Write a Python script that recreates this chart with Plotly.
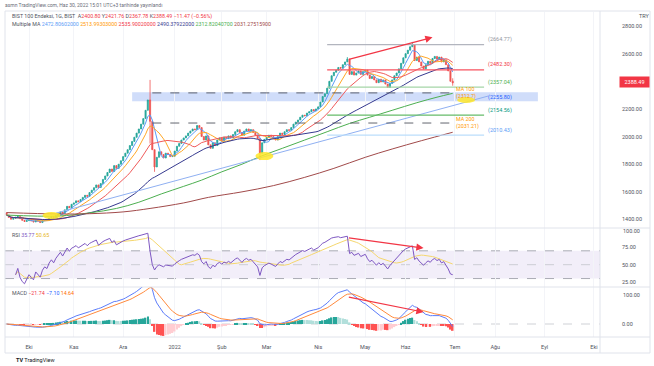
import pandas as pd
import numpy as np
import plotly.graph_objects as go

# ------------------------------------------------------------------ data
holidays = ["2021-10-29", "2022-05-02", "2022-05-03", "2022-05-04", "2022-05-19",
            "2022-07-11", "2022-07-12", "2022-07-15", "2022-08-30"]

close_sep = [1432, 1415, 1402, 1408, 1416, 1422, 1406, 1394, 1386, 1392]
close_oct = [1398, 1390, 1382, 1395, 1388, 1378, 1392, 1400, 1395, 1410, 1420, 1412, 1428,
             1440, 1455, 1445, 1470, 1495, 1485, 1510]
close_nov = [1520, 1535, 1528, 1545, 1560, 1575, 1568, 1595, 1612, 1630, 1650, 1632, 1660,
             1690, 1715, 1740, 1765, 1748, 1790, 1770, 1800, 1825]
close_dec = [1855, 1880, 1905, 1935, 1965, 1995, 2025, 2055, 2090, 2130, 2190, 2265, 2110,
             1905, 1780, 1850, 1890, 1870, 1845, 1880, 1870, 1855, 1858]
close_jan = [1895, 1930, 1950, 1975, 1990, 2005, 2025, 2040, 2055, 2050, 2080, 2065, 2000,
             1975, 2005, 1940, 1915, 1955, 1935, 1975, 1990]
close_feb = [1970, 1995, 1985, 2005, 1990, 2015, 2035, 2050, 2030, 2010, 2040, 2055, 2040,
             2050, 2030, 2010, 1985, 1880, 1955, 1980]
close_mar = [1995, 2010, 2000, 1985, 1975, 2000, 2025, 2015, 2035, 2050, 2045, 2065, 2090,
             2105, 2120, 2140, 2155, 2150, 2170, 2180, 2195, 2185, 2200]
close_apr = [2215, 2250, 2290, 2310, 2350, 2400, 2440, 2465, 2480, 2500, 2495, 2520, 2540,
             2560, 2450, 2470, 2445, 2460, 2475, 2450, 2470]
close_may = [2480, 2445, 2420, 2435, 2410, 2390, 2415, 2395, 2410, 2380, 2355, 2385, 2410,
             2440, 2460, 2490, 2530, 2570]
close_jun = [2600, 2625, 2650, 2665, 2550, 2575, 2540, 2510, 2490, 2520, 2545, 2530, 2565,
             2580, 2560, 2575, 2540, 2555, 2520, 2475, 2400, 2388.49]

month_spans = [("2021-09-17", "2021-09-30", close_sep), ("2021-10-01", "2021-10-31", close_oct),
               ("2021-11-01", "2021-11-30", close_nov), ("2021-12-01", "2021-12-31", close_dec),
               ("2022-01-01", "2022-01-31", close_jan), ("2022-02-01", "2022-02-28", close_feb),
               ("2022-03-01", "2022-03-31", close_mar), ("2022-04-01", "2022-04-30", close_apr),
               ("2022-05-01", "2022-05-31", close_may), ("2022-06-01", "2022-06-30", close_jun)]

open_override = {"2021-09-17": 1448, "2022-06-30": 2400.80}
high_override = {"2021-12-17": 2410, "2022-04-20": 2575, "2022-06-06": 2685, "2022-06-30": 2421.76}
low_override = {"2021-12-17": 1950, "2021-12-21": 1745, "2022-02-24": 1830, "2022-06-30": 2367.78}

ma100_dates = ["2021-09-17", "2021-10-20", "2021-11-10", "2021-11-26", "2021-12-10", "2021-12-24",
               "2022-01-07", "2022-01-19", "2022-02-01", "2022-02-14", "2022-02-24", "2022-03-10",
               "2022-03-24", "2022-04-07", "2022-04-21", "2022-05-09", "2022-05-24", "2022-06-08",
               "2022-06-21", "2022-06-30"]
ma100_vals = [1432, 1425, 1448, 1480, 1525, 1585, 1640, 1685, 1745, 1800, 1855, 1915, 1975, 2035,
              2095, 2140, 2190, 2245, 2285, 2312.82]
ma200_dates = ["2021-09-17", "2021-10-20", "2021-11-10", "2021-12-01", "2021-12-17", "2022-01-07",
               "2022-01-24", "2022-02-14", "2022-03-04", "2022-03-24", "2022-04-12", "2022-05-05",
               "2022-05-24", "2022-06-10", "2022-06-30"]
ma200_vals = [1450, 1440, 1442, 1455, 1480, 1520, 1560, 1600, 1645, 1705, 1770, 1850, 1910, 1970,
              2031.28]

trend_dates = ["2021-10-19", "2022-07-27"]
trend_vals = [1446, 2294]

levels = [2664.77, 2482.30, 2357.04, 2154.56, 2010.43]
level_labels = ["(2664.77)", "(2482.30)", "(2357.04)", "(2154.56)", "(2010.43)"]
level_colors = ["#b2b5be", "#f7525f", "#a5d6a7", "#66bb6a", "#bbdefb"]
level_text_colors = ["#9598a1", "#f23645", "#4caf50", "#089981", "#5b9cf6"]
band_vals = [2255.80, 2320]
band_label = "(2255.80)"
ma_level_vals = [2316, 2098]
ma_level_labels = ["MA 100<br>(2312.7)", "MA 200<br>(2031.21)"]

month_ticks = ["2021-10-01", "2021-11-01", "2021-12-01", "2022-01-03", "2022-02-01", "2022-03-01",
               "2022-04-01", "2022-05-05", "2022-06-01", "2022-07-01", "2022-08-01", "2022-09-01",
               "2022-10-03"]
month_labels = ["Eki", "Kas", "Ara", "2022", "Şub", "Mar", "Nis", "May", "Haz", "Tem", "Ağu", "Eyl", "Eki"]

price_ticks = [1400, 1600, 1800, 2000, 2200, 2600, 2800]
rsi_ticks = [25, 50, 75]
rsi_top_tick = 100
macd_ticks = [0]
macd_top_tick = 100

# ------------------------------------------------------------------ build series
hol = pd.to_datetime(holidays)
dl, cl = [], []
for s, e, vals in month_spans:
    bd = pd.bdate_range(s, e)
    bd = bd[~bd.isin(hol)]
    n = min(len(bd), len(vals))
    dl.extend(bd[:n]); cl.extend(vals[:n])
dates = pd.DatetimeIndex(dl)
close = pd.Series(cl, index=dates, dtype=float)
opens = close.shift(1)
opens.iloc[0] = close.iloc[0]
for k, v in open_override.items():
    opens.loc[pd.Timestamp(k)] = v
highs = np.maximum(opens, close)
lows = np.minimum(opens, close)
for k, v in high_override.items():
    highs.loc[pd.Timestamp(k)] = v
for k, v in low_override.items():
    lows.loc[pd.Timestamp(k)] = v

ma5 = close.rolling(5, min_periods=1).mean()
ma10 = close.rolling(10, min_periods=1).mean()
ma20 = close.rolling(20, min_periods=1).mean()
ma50 = close.rolling(50, min_periods=1).mean()

delta = close.diff().fillna(0)
gain = delta.clip(lower=0).ewm(alpha=1 / 14, adjust=True).mean()
loss = (-delta.clip(upper=0)).ewm(alpha=1 / 14, adjust=True).mean()
rsi = 100 * gain / (gain + loss)
rsi = rsi.iloc[4:]
rsi_ma = rsi.rolling(14, min_periods=1).mean()

ema12 = close.ewm(span=12, adjust=False).mean()
ema26 = close.ewm(span=26, adjust=False).mean()
macd = ema12 - ema26
signal = macd.ewm(span=9, adjust=False).mean()
hist = macd - signal
hcols = []
prev = 0.0
for h in hist.values:
    if h >= 0:
        hcols.append("#26a69a" if h >= prev else "#b2dfdb")
    else:
        hcols.append("#ff5252" if h <= prev else "#ffcdd2")
    prev = h

# ------------------------------------------------------------------ figure
W, H = 654, 366
def px(x): return x / W
def py(y): return 1 - y / H

FONT = "Roboto"
fig = go.Figure()

fig.add_trace(go.Candlestick(
    x=dates, open=opens, high=highs, low=lows, close=close,
    increasing=dict(line=dict(color="#26a69a", width=0.8), fillcolor="#26a69a"),
    decreasing=dict(line=dict(color="#ef5350", width=0.8), fillcolor="#ef5350"),
    whiskerwidth=0, xaxis="x", yaxis="y", showlegend=False, hoverinfo="skip"))

ma_series = [(ma5, "#5b9cf6"), (ma10, "#ffa726"), (ma20, "#f05a5a"), (ma50, "#363a8f")]
for s, c in ma_series:
    fig.add_trace(go.Scatter(x=s.index, y=s.values, mode="lines", line=dict(color=c, width=1),
                             xaxis="x", yaxis="y", showlegend=False, hoverinfo="skip"))
fig.add_trace(go.Scatter(x=ma100_dates, y=ma100_vals, mode="lines", line=dict(color="#4caf50", width=1, shape="spline"),
                         xaxis="x", yaxis="y", showlegend=False, hoverinfo="skip"))
fig.add_trace(go.Scatter(x=ma200_dates, y=ma200_vals, mode="lines", line=dict(color="#a14a4a", width=1, shape="spline"),
                         xaxis="x", yaxis="y", showlegend=False, hoverinfo="skip"))
fig.add_trace(go.Scatter(x=trend_dates, y=trend_vals, mode="lines", line=dict(color="#8fb0f2", width=1),
                         xaxis="x", yaxis="y", showlegend=False, hoverinfo="skip"))

fig.add_trace(go.Scatter(x=rsi_ma.index, y=rsi_ma.values, mode="lines", line=dict(color="#f5d76e", width=1),
                         xaxis="x2", yaxis="y2", showlegend=False, hoverinfo="skip"))
fig.add_trace(go.Scatter(x=rsi.index, y=rsi.values, mode="lines", line=dict(color="#7e57c2", width=1),
                         xaxis="x2", yaxis="y2", showlegend=False, hoverinfo="skip"))

fig.add_trace(go.Bar(x=hist.index, y=hist.values, marker=dict(color=hcols, line=dict(width=0)),
                     xaxis="x3", yaxis="y3", showlegend=False, hoverinfo="skip"))
fig.add_trace(go.Scatter(x=macd.index, y=macd.values, mode="lines", line=dict(color="#5c7cfa", width=1),
                         xaxis="x3", yaxis="y3", showlegend=False, hoverinfo="skip"))
fig.add_trace(go.Scatter(x=signal.index, y=signal.values, mode="lines", line=dict(color="#ff8a3d", width=1),
                         xaxis="x3", yaxis="y3", showlegend=False, hoverinfo="skip"))

shapes = []
ann = []
lvl_x0, lvl_x1, lvl_lab = "2022-04-07", "2022-07-25", "2022-07-26"
# blue band
shapes.append(dict(type="rect", xref="x", yref="y", x0="2021-12-07", x1="2022-08-26",
                   y0=band_vals[0], y1=band_vals[1], fillcolor="rgba(66,120,235,0.25)",
                   line=dict(width=0), layer="below"))
for v, c in zip(levels, level_colors):
    shapes.append(dict(type="line", xref="x", yref="y", x0=lvl_x0, x1=lvl_x1, y0=v, y1=v,
                       line=dict(color=c, width=1.2)))
for v, t, c in zip(levels, level_labels, level_text_colors):
    ann.append(dict(xref="x", yref="y", x=lvl_lab, y=v, text=t, showarrow=False, xanchor="left",
                    yanchor="middle", yshift=5, font=dict(size=5.5, color=c, family=FONT)))
ann.append(dict(xref="x", yref="y", x=lvl_lab, y=band_vals[0], text=band_label, showarrow=False,
                xanchor="left", yanchor="middle", yshift=4, font=dict(size=5.5, color="#2962ff", family=FONT)))
for v, t in zip(ma_level_vals, ma_level_labels):
    shapes.append(dict(type="line", xref="x", yref="y", x0="2021-12-20", x1="2022-06-30", y0=v, y1=v,
                       line=dict(color="#50535e", width=0.9, dash="dash")))
    ann.append(dict(xref="x", yref="y", x="2022-06-30", y=v, text=t, showarrow=False, xanchor="left",
                    xshift=1, yanchor="middle", align="left", font=dict(size=5.3, color="#ff9800", family=FONT)))

# yellow highlights
for x0, x1, y0, y1 in [("2021-10-11", "2021-10-21", 1404, 1454), ("2022-02-22", "2022-03-04", 1830, 1888),
                       ("2022-07-04", "2022-07-19", 2243, 2286)]:
    shapes.append(dict(type="circle", xref="x", yref="y", x0=x0, x1=x1, y0=y0, y1=y1,
                       fillcolor="rgba(255,230,40,0.85)", line=dict(width=0)))

# divergence arrows
RED = "#f23645"
for xr_, yr_, t0, v0, t1, v1 in [("x", "y", "2022-04-20", 2556, "2022-06-17", 2718),
                                  ("x2", "y2", "2022-04-20", 89, "2022-06-13", 74),
                                  ("x3", "y3", "2022-04-20", 94, "2022-06-13", 41)]:
    ann.append(dict(xref=xr_, yref=yr_, axref=xr_, ayref=yr_, x=t1, y=v1, ax=t0, ay=v0, text="",
                    showarrow=True, arrowhead=2, arrowsize=1.2, arrowwidth=1.2, arrowcolor=RED))

# RSI band and lines
shapes.append(dict(type="rect", xref="x2 domain", yref="y2", x0=0, x1=1, y0=30, y1=70,
                   fillcolor="rgba(126,87,194,0.10)", line=dict(width=0), layer="below"))
for v, c in [(70, "#9598a1"), (50, "#c3c5cc"), (30, "#9598a1")]:
    shapes.append(dict(type="line", xref="x2 domain", yref="y2", x0=0, x1=1, y0=v, y1=v,
                       line=dict(color=c, width=0.8, dash="dash"), layer="below"))
shapes.append(dict(type="line", xref="x3 domain", yref="y3", x0=0, x1=1, y0=0, y1=0,
                   line=dict(color="#c3c5cc", width=0.8, dash="dash"), layer="below"))

# frame / separators
LC = "#e0e3eb"
shapes.append(dict(type="rect", xref="paper", yref="paper", x0=px(5), x1=px(650), y0=py(353), y1=py(11),
                   line=dict(color=LC, width=1)))
for yy in [228, 287, 337]:
    shapes.append(dict(type="line", xref="paper", yref="paper", x0=px(5), x1=px(650), y0=py(yy), y1=py(yy),
                       line=dict(color=LC, width=1)))
shapes.append(dict(type="line", xref="paper", yref="paper", x0=px(600), x1=px(600), y0=py(353), y1=py(11),
                   line=dict(color=LC, width=1)))

# texts
def txt(x, y, t, size=5.3, color="#50535e", anchor="left"):
    ann.append(dict(xref="paper", yref="paper", x=px(x), y=py(y), text=t, showarrow=False,
                    xanchor=anchor, yanchor="middle", font=dict(size=size, color=color, family=FONT)))

txt(3, 5, "asmn TradingView.com, Haz 30, 2022 15:01 UTC+3 tarihinde yayınlandı", 5.0, "#6a6d78")
r = lambda s: f'<span style="color:#f23645">{s}</span>'
txt(10, 16, "BIST 100 Endeksi, 1G, BIST  A" + r("2400.80") + " Y" + r("2421.76") + " D" + r("2367.78")
    + " K" + r("2388.49") + " " + r("−11.47 (−0.56%)"), 5.3, "#50535e")
ma_legend = [("2472.80602000", "#5b9cf6"), ("2513.99303000", "#ff9800"), ("2535.90020000", "#f23645"),
             ("2490.37922000", "#363a8f"), ("2312.82040700", "#4caf50"), ("2031.27515900", "#a14a4a")]
txt(10, 24, "Multiple MA " + " ".join(f'<span style="color:{c}">{v}</span>' for v, c in ma_legend), 5.3)
txt(10, 235, 'RSI <span style="color:#7e57c2">35.77</span> <span style="color:#e6b422">50.65</span>', 5.3)
txt(10, 293, 'MACD <span style="color:#f23645">−21.74</span> <span style="color:#2962ff">−7.10</span> '
    '<span style="color:#ff6d00">14.64</span>', 5.3)
txt(637, 16, "TRY", 5.5, "#50535e")
txt(14, 360, "<b>TV</b> TradingView", 5.5, "#131722")
ann.append(dict(xref="paper", yref="paper", x=px(634), y=py(82.5), text="2388.49", showarrow=False,
                xanchor="center", yanchor="middle", bgcolor="#f23645", width=27, height=8,
                font=dict(size=5.5, color="white", family=FONT)))
# top scale labels of the indicator panes
txt(621, 231, f"{rsi_top_tick:.2f}", 5.5, "#50535e")
ann.append(dict(xref="paper", yref="y3", x=px(621), y=macd_top_tick, text=f"{macd_top_tick:.2f}",
                showarrow=False, xanchor="left", yanchor="middle",
                font=dict(size=5.5, color="#50535e", family=FONT)))

rb = [dict(bounds=["sat", "mon"]), dict(values=holidays)]
xrange_ = ["2021-09-16 07:00", "2022-10-05 17:00"]
xdom = [px(5), px(600)]
xcommon = dict(domain=xdom, range=xrange_, rangebreaks=rb, showgrid=True, gridcolor="#f3f4f8",
               gridwidth=1, zeroline=False, showline=False, tickvals=month_ticks, ticktext=month_labels,
               ticks="", fixedrange=True)
ycommon = dict(side="right", showgrid=False, zeroline=False, showline=False, ticks="",
               tickfont=dict(size=5.5, color="#50535e", family=FONT), ticklabelstandoff=21,
               ticklabeloverflow="allow", fixedrange=True)

fig.update_layout(
    width=W, height=H, margin=dict(l=0, r=0, t=0, b=0),
    paper_bgcolor="white", plot_bgcolor="white", showlegend=False, bargap=0.3,
    xaxis=dict(**xcommon, anchor="y", showticklabels=False, rangeslider=dict(visible=False)),
    xaxis2=dict(**xcommon, anchor="y2", matches="x", showticklabels=False),
    xaxis3=dict(**xcommon, anchor="y3", matches="x", showticklabels=True,
                tickfont=dict(size=5.5, color="#50535e", family=FONT), ticklabelstandoff=5),
    yaxis=dict(**ycommon, domain=[py(228), py(12)], range=[1338.5, 2901.3], anchor="x",
               tickvals=price_ticks, ticktext=[f"{v:.2f}" for v in price_ticks]),
    yaxis2=dict(**ycommon, domain=[py(287), py(228)], range=[17.8, 102.9], anchor="x2",
                tickvals=rsi_ticks, ticktext=[f"{v:.2f}" for v in rsi_ticks]),
    yaxis3=dict(**ycommon, domain=[py(337), py(287)], range=[-44.8, 127.6], anchor="x3",
                tickvals=macd_ticks, ticktext=[f"{v:.2f}" for v in macd_ticks]),
    shapes=shapes, annotations=ann,
)

fig.write_html("out.html", config={"displayModeBar": False},
               post_script="document.body.style.margin='0';document.body.style.overflow='hidden';")
